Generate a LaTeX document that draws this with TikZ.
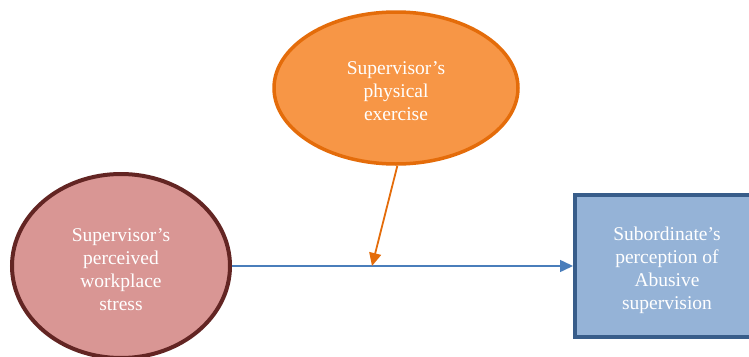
\documentclass[tikz,border=0pt]{standalone}
\usepackage{fontspec}
\setmainfont{Liberation Serif}
\usetikzlibrary{shapes.geometric,arrows.meta}
\definecolor{exfill}{HTML}{F79646}
\definecolor{exline}{HTML}{E46C0A}
\definecolor{stfill}{HTML}{D99694}
\definecolor{stline}{HTML}{632523}
\definecolor{abfill}{HTML}{95B3D7}
\definecolor{abline}{HTML}{385D8A}
\definecolor{link}{HTML}{4A7EBB}
\tikzset{
  label text/.style={text=white, align=center, font=\fontsize{19.5}{23}\selectfont, inner sep=0pt},
  oval/.style={ellipse, inner sep=0pt},
  tip/.style={-{Triangle[length=13pt, width=12pt]}}
}
\begin{document}
\begin{tikzpicture}[x=1pt, y=-1pt]
  \useasboundingbox (0,0) rectangle (749,356);
  \clip (0,0) rectangle (749,356);

  % moderator
  \node[oval, fill=exfill, draw=exline, line width=3.5pt,
        minimum width=244pt, minimum height=152pt] (ex) at (396,88) {};
  \node[label text] (ex-text) at ([yshift=-3pt]ex.center)
        {Supervisor’s\\physical\\exercise};

  % predictor
  \node[oval, fill=stfill, draw=stline, line width=4pt,
        minimum width=218pt, minimum height=184pt] (stress) at (121,266) {};
  \node[label text] (stress-text) at ([yshift=-4pt]stress.center)
        {Supervisor’s\\perceived\\workplace\\stress};

  % outcome
  \node[rectangle, fill=abfill, draw=abline, line width=4pt,
        minimum width=184pt, minimum height=142pt] (abuse) at (667,266) {};
  \node[label text] (abuse-text) at ([yshift=-4.5pt]abuse.center)
        {Subordinate’s\\perception of\\Abusive\\supervision};

  % main path
  \draw[tip, draw=link, fill=link, line width=1.5pt] (stress.east) -- (abuse.west);

  % moderating path
  \coordinate (mid) at (372,266);
  \draw[tip, draw=exline, fill=exline, line width=1.8pt] (ex.271.5) -- (mid);
\end{tikzpicture}
\end{document}
